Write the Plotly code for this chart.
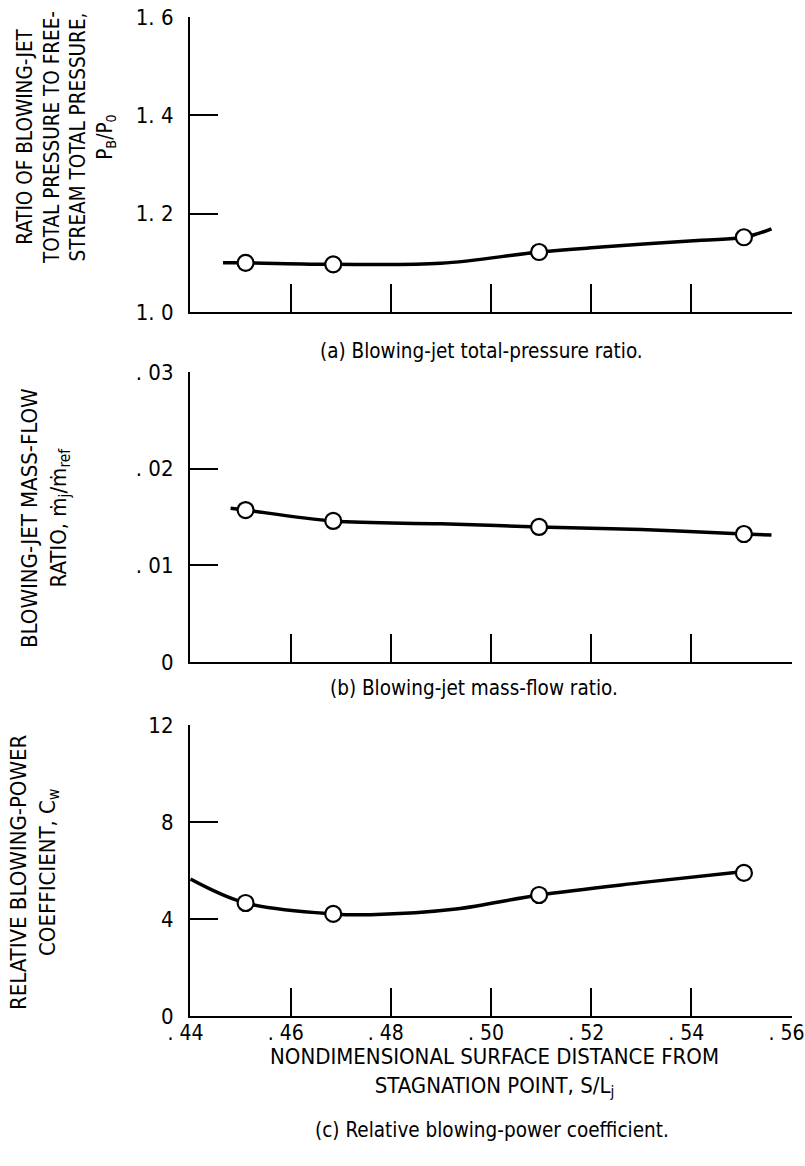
import plotly.graph_objects as go

# ---- data ----
x_points = [0.451, 0.4685, 0.5096, 0.5505]
pb_ratio = [1.100, 1.097, 1.122, 1.152]
mass_flow = [0.01572, 0.01459, 0.01397, 0.01324]
cw_coeff = [4.66, 4.21, 4.99, 5.90]

# faired curves (read-off points along the drawn curves)
pb_curve_x = [0.4465, 0.451, 0.4685, 0.490, 0.5096, 0.522, 0.542, 0.5505, 0.556]
pb_curve_y = [1.100, 1.100, 1.097, 1.099, 1.122, 1.132, 1.146, 1.152, 1.169]
mf_curve_x = [0.448, 0.451, 0.4685, 0.490, 0.5096, 0.530, 0.5505, 0.556]
mf_curve_y = [0.0159, 0.01572, 0.01459, 0.0143, 0.01397, 0.0137, 0.01324, 0.01314]
cw_curve_x = [0.440, 0.451, 0.4685, 0.476, 0.493, 0.5096, 0.530, 0.5515]
cw_curve_y = [5.65, 4.66, 4.21, 4.18, 4.41, 4.99, 5.50, 5.98]

x_tickvals = [0.44, 0.46, 0.48, 0.50, 0.52, 0.54, 0.56]
x_ticktext = [". 44", ". 46", ". 48", ". 50", ". 52", ". 54", ". 56"]
pb_tickvals = [1.0, 1.2, 1.4, 1.6]
pb_ticktext = ["1. 0", "1. 2", "1. 4", "1. 6"]
mf_tickvals = [0.0, 0.01, 0.02, 0.03]
mf_ticktext = ["0", ". 01", ". 02", ". 03"]
cw_tickvals = [0, 4, 8, 12]
cw_ticktext = ["0", "4", "8", "12"]

FONT = "Liberation Sans Narrow, DejaVu Sans Condensed, Arial Narrow, Liberation Sans, sans-serif"
W, H = 805, 1166

def px(x):
    return x / W

def py(y):
    return 1 - y / H

fig = go.Figure()

panels = [
    ("x", "y", pb_curve_x, pb_curve_y, pb_ratio),
    ("x2", "y2", mf_curve_x, mf_curve_y, mass_flow),
    ("x3", "y3", cw_curve_x, cw_curve_y, cw_coeff),
]
for xa, ya, cx, cy, vals in panels:
    fig.add_trace(go.Scatter(x=cx, y=cy, mode="lines", xaxis=xa, yaxis=ya,
                             line=dict(color="black", width=3.5, shape="spline", smoothing=1.0),
                             showlegend=False, hoverinfo="skip", cliponaxis=False))
    fig.add_trace(go.Scatter(x=x_points, y=vals, mode="markers", xaxis=xa, yaxis=ya,
                             marker=dict(symbol="circle", size=16, color="white",
                                         line=dict(color="black", width=2.2)),
                             showlegend=False, cliponaxis=False))

xdom = [px(190), px(792)]
axis_common = dict(showline=True, linecolor="black", linewidth=2.2, showgrid=False,
                   zeroline=False, ticks="inside", ticklen=28, tickwidth=1.8,
                   tickcolor="black", automargin=False, ticklabeloverflow="allow",
                   tickfont=dict(family=FONT, size=22, color="black"))

def xaxis(anchor, labels):
    d = dict(axis_common)
    d.update(domain=xdom, range=[0.4399, 0.5601], anchor=anchor,
             tickvals=x_tickvals, ticktext=x_ticktext, showticklabels=labels,
             ticklabelshift=-5, ticklabelstandoff=-3,
             tickfont=dict(family=FONT, size=21, color="black"))
    return d

def yaxis(anchor, dom, rng, tv, tt):
    d = dict(axis_common)
    d.update(domain=dom, range=rng, anchor=anchor, tickvals=tv, ticktext=tt,
             ticklabelstandoff=10)
    return d

fig.update_layout(
    width=W, height=H,
    margin=dict(l=0, r=0, t=0, b=0),
    paper_bgcolor="white", plot_bgcolor="white",
    font=dict(family=FONT, color="black"),
    xaxis=xaxis("y", False),
    yaxis=yaxis("x", [py(312), py(17)], [1.0, 1.6], pb_tickvals, pb_ticktext),
    xaxis2=xaxis("y2", False),
    yaxis2=yaxis("x2", [py(662), py(372)], [0.0, 0.03], mf_tickvals, mf_ticktext),
    xaxis3=xaxis("y3", True),
    yaxis3=yaxis("x3", [py(1016), py(725)], [0, 12], cw_tickvals, cw_ticktext),
)

ann = []
def add(text, x, y, size, angle=0):
    ann.append(dict(text=text, x=px(x), y=py(y), xref="paper", yref="paper",
                    showarrow=False, textangle=angle, xanchor="center", yanchor="middle",
                    align="center", font=dict(family=FONT, size=size, color="black")))

add("RATIO OF BLOWING-JET<br>TOTAL PRESSURE TO FREE-<br>STREAM TOTAL PRESSURE,<br>P<sub>B</sub>/P<sub>0</sub>",
    66, 138, 20.5, -90)
add("BLOWING-JET MASS-FLOW<br>RATIO, ṁ<sub>j</sub>/ṁ<sub>ref</sub>", 45, 518, 22, -90)
add("RELATIVE BLOWING-POWER<br>COEFFICIENT, C<sub>w</sub>", 34, 872, 22, -90)
add("(a) Blowing-jet total-pressure ratio.", 482, 351, 20.5)
add("(b) Blowing-jet mass-flow ratio.", 474, 688, 20.5)
add("NONDIMENSIONAL SURFACE DISTANCE FROM<br>STAGNATION POINT, S/L<sub>j</sub>", 494, 1072, 22)
add("(c) Relative blowing-power coefficient.", 492, 1130, 20.5)
fig.update_layout(annotations=ann)

fig.write_html("out.html")
